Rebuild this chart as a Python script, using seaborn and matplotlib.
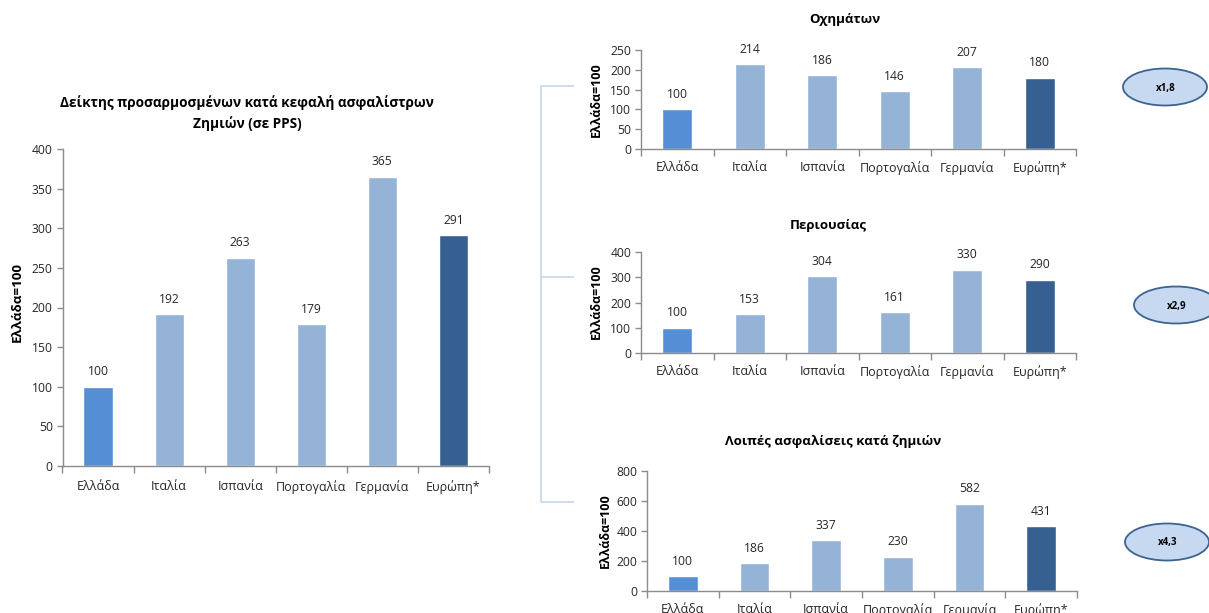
import matplotlib
matplotlib.use("Agg")
import matplotlib.pyplot as plt
from matplotlib.patches import Ellipse
from matplotlib.ticker import FixedLocator, MultipleLocator
import seaborn as sns

sns.set_theme(style="white")
plt.rcParams["font.family"] = ["Open Sans", "DejaVu Sans"]

# ---- data -------------------------------------------------------------
countries = ["Ελλάδα", "Ιταλία", "Ισπανία", "Πορτογαλία", "Γερμανία", "Ευρώπη*"]

claims_total = [100, 192, 263, 179, 365, 291]
vehicles = [100, 214, 186, 146, 207, 180]
property_ins = [100, 153, 304, 161, 330, 290]
other_claims = [100, 186, 337, 230, 582, 431]

main_title = "Δείκτης προσαρμοσμένων κατά κεφαλή ασφαλίστρων\nΖημιών (σε PPS)"
sub_titles = ["Οχημάτων", "Περιουσίας", "Λοιπές ασφαλίσεις κατά ζημιών"]
multipliers = ["x1,8", "x2,9", "x4,3"]
y_label = "Ελλάδα=100"

bar_colors = ["#558ED5", "#95B3D7", "#95B3D7", "#95B3D7", "#95B3D7", "#376092"]

W, H = 1209, 613
fig = plt.figure(figsize=(W / 100, H / 100), dpi=100)
fig.patch.set_facecolor("white")


def px_axes(left, top, right, bottom):
    return fig.add_axes([left / W, 1 - bottom / H, (right - left) / W, (bottom - top) / H])


SPINE = "#8c8c8c"
TXT = "#262626"


def draw_bars(ax, values, ymax, ystep, fs_tick, fs_cat, cat_pad):
    sns.barplot(x=countries, y=values, hue=countries, palette=bar_colors,
                legend=False, width=0.41, ax=ax, saturation=1)
    ax.set_xlim(-0.5, len(countries) - 0.5)
    ax.set_ylim(0, ymax)
    ax.yaxis.set_major_locator(MultipleLocator(ystep))
    for s in ("top", "right"):
        ax.spines[s].set_visible(False)
    for s in ("left", "bottom"):
        ax.spines[s].set_color(SPINE)
        ax.spines[s].set_linewidth(1.0)
    ax.tick_params(axis="y", which="major", length=4, width=1, color=SPINE,
                   labelsize=fs_tick, labelcolor=TXT, pad=3, left=True)
    ax.tick_params(axis="x", which="major", length=0, labelsize=fs_cat,
                   labelcolor=TXT, pad=cat_pad, bottom=True)
    ax.xaxis.set_minor_locator(FixedLocator([i - 0.5 for i in range(len(countries) + 1)]))
    ax.tick_params(axis="x", which="minor", length=5, width=1, color=SPINE, bottom=True)
    ax.set_xlabel("")
    ax.set_ylabel("")
    for cont in ax.containers:
        ax.bar_label(cont, fmt="%d", padding=6, fontsize=fs_tick, color=TXT)
    ax.set_facecolor("white")


# ---- main chart --------------------------------------------------------
ax_main = px_axes(62.5, 149, 489, 466)
draw_bars(ax_main, claims_total, 400, 50, 8.7, 9, 10)
fig.text(247 / W, 1 - 113 / H, main_title, ha="center", va="center",
         fontsize=9.8, fontweight="bold", color="black", linespacing=1.45)
fig.text(17 / W, 1 - 302 / H, y_label, rotation=90, ha="center", va="center",
         fontsize=9.6, fontweight="bold", color="black")

# ---- small charts ------------------------------------------------------
small = [
    (vehicles, 250, 50, (641, 50, 1076, 149), (845, 20), (596, 100)),
    (property_ins, 400, 100, (641, 252, 1076, 353), (828, 225), (596, 302)),
    (other_claims, 800, 200, (647, 471, 1077, 591), (833, 441), (605, 531)),
]
for (vals, ymax, ystep, box, tpos, ypos), title in zip(small, sub_titles):
    ax = px_axes(*box)
    draw_bars(ax, vals, ymax, ystep, 8.7, 9, 8.5)
    fig.text(tpos[0] / W, 1 - tpos[1] / H, title, ha="center", va="center",
             fontsize=9.5, fontweight="bold", color="black")
    fig.text(ypos[0] / W, 1 - ypos[1] / H, y_label, rotation=90, ha="center",
             va="center", fontsize=9, fontweight="bold", color="black")

# ---- connector bracket and multiplier badges ---------------------------
ov = fig.add_axes([0, 0, 1, 1], zorder=-1)
ov.set_xlim(0, W)
ov.set_ylim(H, 0)
ov.axis("off")
BR = "#c5d5ea"
ov.plot([574, 541, 541, 574], [86, 86, 502, 502], color=BR, lw=1.2, solid_capstyle="butt")
ov.plot([541, 574], [277, 277], color=BR, lw=1.2, solid_capstyle="butt")

ov2 = fig.add_axes([0, 0, 1, 1], zorder=5)
ov2.set_xlim(0, W)
ov2.set_ylim(H, 0)
ov2.axis("off")
for (cx, cy), label in zip([(1165, 87), (1176, 305), (1167, 542)], multipliers):
    ov2.add_patch(Ellipse((cx, cy), 84, 37, facecolor="#c6d9f1",
                          edgecolor="#3c6491", lw=1.3))
    ov2.text(cx + 1, cy + 1, label, ha="center", va="center", fontsize=7,
             fontweight="bold", color="black")

fig.savefig("out.png", dpi=100, facecolor="white")
